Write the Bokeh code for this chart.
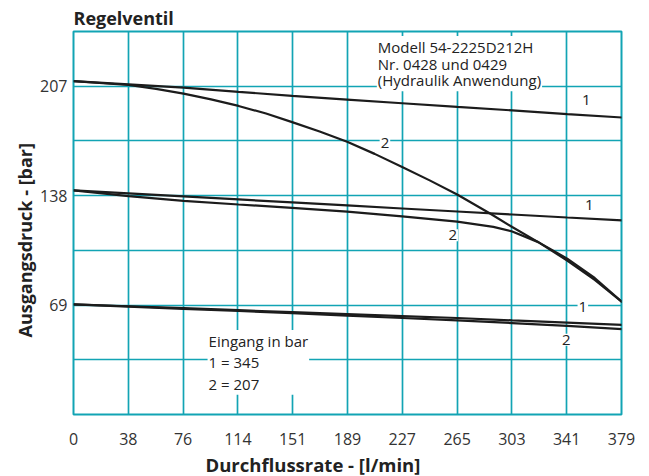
from bokeh.plotting import figure
from bokeh.models import FixedTicker, Label, Title, Range1d
from bokeh.embed import file_html
from bokeh.resources import INLINE

# ---- data (flow in l/min, outlet pressure in bar) ----
x_ticks = [0, 37.85, 75.7, 113.55, 151.4, 189.25, 227.1, 264.95, 302.8, 340.65, 378.5]
x_tick_labels = ["0", "38", "76", "114", "151", "189", "227", "265", "303", "341", "379"]
y_ticks = [68.95, 137.9, 206.85]
y_tick_labels = ["69", "138", "207"]
y_grid = [34.475, 68.95, 103.425, 137.9, 172.375, 206.85]

flow = [0, 38, 76, 114, 151, 189, 227, 265, 303, 341, 379]

# inlet 345 bar
p207_in345 = [210.0, 208.0, 206.0, 203.3, 200.7, 198.4, 196.1, 193.8, 191.6, 189.3, 187.1]
p138_in345 = [141.2, 139.3, 137.4, 135.5, 133.6, 131.7, 129.8, 127.9, 126.0, 124.1, 122.3]
p69_in345 = [69.4, 68.2, 67.0, 65.7, 64.5, 63.2, 62.0, 60.8, 59.3, 57.9, 56.5]

# inlet 207 bar
flow_a = [0, 38, 57, 76, 95, 114, 133, 151, 170, 189, 208, 227, 246, 265, 288, 303, 321, 341, 360, 379]
p207_in207 = [210.0, 207.6, 205.2, 202.2, 198.5, 194.4, 189.6, 184.2, 178.3, 171.8, 164.2, 156.0, 147.5, 138.6,
              126.5, 118.1, 108.6, 97.0, 84.8, 70.8]
flow_b = [0, 38, 76, 114, 151, 189, 227, 265, 290, 303, 321, 341, 360, 379]
p138_in207 = [141.2, 137.6, 134.6, 132.3, 130.2, 127.8, 124.8, 121.5, 118.2, 115.3, 108.6, 98.2, 86.0, 70.8]
p69_in207 = [69.4, 68.0, 66.6, 65.2, 63.8, 62.3, 60.8, 59.3, 57.6, 55.8, 53.8]

TEAL = "#12a4b4"
INK = "#1c1c1c"
FONT = "Open Sans"

p = figure(frame_width=548, frame_height=383, x_range=Range1d(0, 378.5), y_range=Range1d(0, 241.3),
           output_backend="svg", toolbar_location=None,
           min_border_left=73, min_border_right=28, min_border_top=31, min_border_bottom=10)

p.title.text = "Regelventil"
p.title.text_font = FONT
p.title.text_font_size = "18px"
p.title.text_font_style = "bold"
p.title.text_color = "#222222"
p.title.align = "left"
p.title.offset = 0
p.title.standoff = 4

p.outline_line_color = TEAL
p.outline_line_width = 2
p.background_fill_color = "white"

# axes
p.xaxis.ticker = FixedTicker(ticks=x_ticks)
p.xaxis.major_label_overrides = {t: l for t, l in zip(x_ticks, x_tick_labels)}
p.yaxis.ticker = FixedTicker(ticks=y_ticks)
p.yaxis.major_label_overrides = {t: l for t, l in zip(y_ticks, y_tick_labels)}
for ax in (p.xaxis, p.yaxis):
    ax.axis_line_color = None
    ax.major_tick_line_color = None
    ax.minor_tick_line_color = None
    ax.major_tick_in = 0
    ax.major_tick_out = 0
    ax.major_label_text_font = FONT
    ax.major_label_text_font_size = "16px"
    ax.major_label_text_color = "#333333"
p.xaxis.major_label_standoff = 18
p.yaxis.major_label_standoff = 6

p.add_layout(Title(text="Ausgangsdruck - [bar]", align="left", offset=77,
                   text_font=FONT, text_font_size="18px", text_font_style="bold",
                   text_color="#222222", standoff=2), "left")

p.add_layout(Title(text="Durchflussrate - [l/min]", align="left", offset=132,
                   text_font=FONT, text_font_size="18.5px", text_font_style="bold",
                   text_color="#222222", standoff=4), "below")

# grid
p.xgrid.ticker = FixedTicker(ticks=x_ticks[1:-1])
p.ygrid.ticker = FixedTicker(ticks=y_grid)
for g in (p.xgrid, p.ygrid):
    g.grid_line_color = TEAL
    g.grid_line_width = 1.7

# curves
for xs, ys in [(flow, p207_in345), (flow_a, p207_in207), (flow, p138_in345),
               (flow_b, p138_in207), (flow, p69_in345), (flow, p69_in207)]:
    p.line(xs, ys, line_color=INK, line_width=2.2)

# curve labels
curve_labels = [("1", 354.1, 198.0), ("2", 215.1, 171.0), ("1", 356.2, 131.8),
                ("2", 261.9, 112.9), ("1", 351.8, 67.7), ("2", 340.3, 47.1)]
for txt, lx, ly in curve_labels:
    p.add_layout(Label(x=lx, y=ly, text=txt, text_font=FONT, text_font_size="15px",
                       text_color="#222222", text_align="center", text_baseline="middle",
                       background_fill_color="white", padding=1))

p.add_layout(Label(x=209.5, y=238.5, text="Modell 54-2225D212H\nNr. 0428 und 0429\n(Hydraulik Anwendung)",
                   text_font=FONT, text_font_size="15px", text_color="#222222",
                   text_align="left", text_baseline="top", text_line_height=0.83,
                   background_fill_color="white", padding=1))

p.add_layout(Label(x=92.6, y=53.3, text="Eingang in bar\n1 = 345\n2 = 207",
                   text_font=FONT, text_font_size="15px", text_color="#222222",
                   text_align="left", text_baseline="top", text_line_height=1.07,
                   background_fill_color="white", padding=1))

open("out.html", "w").write(file_html(p, INLINE))
